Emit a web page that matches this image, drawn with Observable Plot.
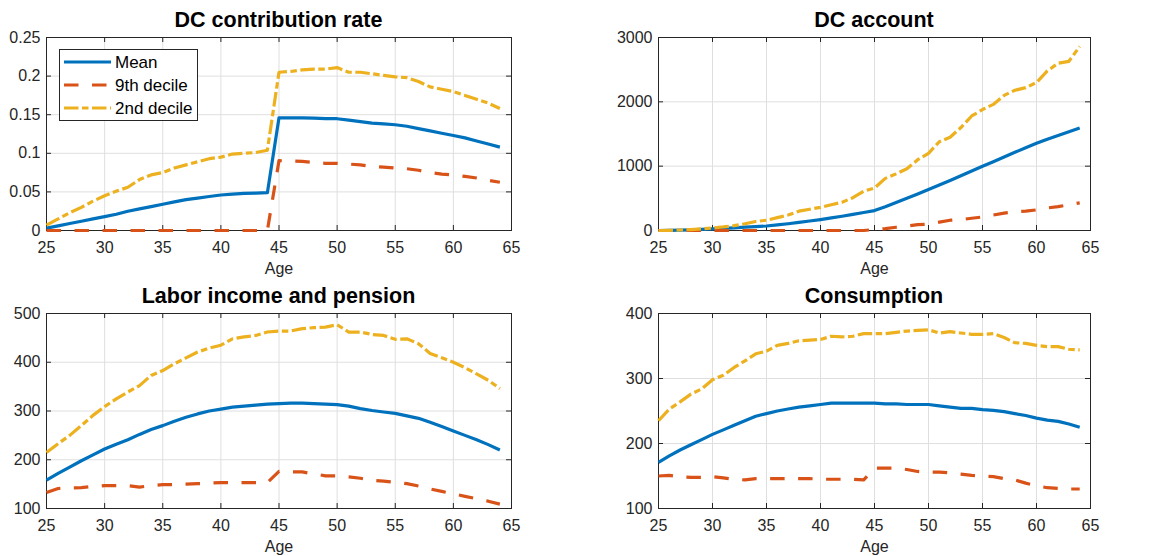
<!DOCTYPE html>
<html><head><meta charset="utf-8">
<script src="https://cdn.jsdelivr.net/npm/d3@7"></script>
<script src="https://cdn.jsdelivr.net/npm/@observablehq/plot@0.6"></script>
<style>
body{margin:0;background:#fff;}
#root{position:relative;width:1149px;height:556px;font-family:"Liberation Sans",Arial,sans-serif;background:#fff;}
.panel{position:absolute;}
.title{position:absolute;font-weight:bold;font-size:21.5px;line-height:24px;color:#000;text-align:center;white-space:nowrap;}
</style></head><body><div id="root"></div>
<script>
const ages = [25,26,27,28,29,30,31,32,33,34,35,36,37,38,39,40,41,42,43,44,45,46,47,48,49,50,51,52,53,54,55,56,57,58,59,60,61,62,63,64];
const seriesNames = ["Mean","9th decile","2nd decile"];
const colors = ["#0072BD","#D95319","#EDB120"];
const dashes = [null,"14.5,13.5","14.5,3.5,6.5,3.5"];
const xTicks = [25,30,35,40,45,50,55,60,65];

// DC contribution rate
const rateMean = [0.003,0.006,0.009,0.012,0.015,0.018,0.021,0.025,0.028,0.031,0.034,0.037,0.040,0.042,0.044,0.046,0.047,0.048,0.0485,0.049,0.146,0.146,0.146,0.1455,0.145,0.1448,0.143,0.141,0.139,0.138,0.137,0.135,0.132,0.129,0.126,0.123,0.120,0.116,0.112,0.108];
const rateD9 = [0,0,0,0,0,0,0,0,0,0,0,0,0,0,0,0,0,0,0,0,0.0905,0.090,0.0895,0.088,0.087,0.087,0.086,0.085,0.083,0.082,0.081,0.080,0.078,0.075,0.073,0.072,0.070,0.068,0.065,0.0625];
const rateD2 = [0.007,0.015,0.023,0.030,0.038,0.045,0.051,0.056,0.066,0.072,0.075,0.081,0.085,0.089,0.093,0.095,0.099,0.100,0.101,0.104,0.205,0.206,0.208,0.209,0.209,0.211,0.205,0.205,0.203,0.201,0.199,0.198,0.193,0.186,0.183,0.180,0.175,0.170,0.165,0.158];
const rateTicks = [0,0.05,0.1,0.15,0.2,0.25];

// DC account
const accMean = [0,2,5,10,17,25,33,42,52,60,70,88,105,125,148,170,195,222,250,280,310,370,435,500,568,636,707,778,850,925,998,1070,1143,1215,1285,1355,1420,1478,1535,1593];
const accD9 = [0,0,0,0,0,0,0,0,0,0,0,0,0,0,0,0,0,0,0,0,15,30,50,70,90,100,130,160,170,190,210,240,270,290,300,320,350,370,400,430];
const accD2 = [0,3,8,15,25,40,55,75,105,140,160,200,240,300,330,360,400,440,510,610,660,810,880,960,1100,1200,1380,1450,1600,1780,1880,1960,2100,2180,2220,2300,2480,2600,2630,2860];
const accTicks = [0,1000,2000,3000];

// Labor income and pension
const incMean = [158,172,185,198,210,222,232,241,252,262,270,279,287,294,300,304,308,310,312,314,315,316,316,315,314,313,310,305,301,298,295,290,285,277,268,259,250,241,231,220];
const incD9 = [133,141,142,143,145,147,147,147,144,147,149,149,150,151,152,153,153,153,153,153,176,175,175,171,167,167,165,162,158,156,154,151,146,140,135,130,125,120,115,109];
const incD2 = [215,233,250,270,291,309,325,339,352,373,383,397,409,421,429,435,448,452,455,462,464,464,469,471,472,477,462,462,457,455,447,448,438,418,409,400,389,376,363,346];
const incTicks = [100,200,300,400,500];

// Consumption
const conMean = [171,181,190,198,206,214,221,228,235,242,246,250,253,256,258,260,262,262,262,262,262,261,261,260,260,260,258,256,254,254,252,251,249,246,243,239,236,234,230,225];
const conD9 = [150,151,149,148,148,149,147,145,144,146,146,146,146,146,146,145,145,145,145,144,162,162,162,160,157,156,156,155,153,151,150,149,146,144,139,135,132,131,130,130];
const conD2 = [235,253,264,276,284,298,305,317,327,338,342,351,354,358,359,360,365,364,365,369,369,369,371,373,374,375,370,372,370,368,368,369,363,355,354,351,349,349,345,344];
const conTicks = [100,200,300,400];

const root = document.getElementById("root");
const fmtDec = d => String(+d.toFixed(2));
const fmtInt = d3.format("d");

function panel({left, top, width, height, mL, mR, mT, mB, yDomain, yTicks, yFormat, series, title}) {
  const pw = width - mL - mR, ph = height - mT - mB;
  const ink = "#262626";
  const marks = [
    Plot.gridX(xTicks, {stroke: "#dfdfdf", strokeOpacity: 1, strokeWidth: 1}),
    Plot.gridY(yTicks, {stroke: "#dfdfdf", strokeOpacity: 1, strokeWidth: 1}),
    Plot.ruleX(xTicks, {x: d => d, insetTop: ph - 5, stroke: ink}),
    Plot.ruleX(xTicks, {x: d => d, insetBottom: ph - 5, stroke: ink}),
    Plot.ruleY(yTicks, {y: d => d, insetRight: pw - 5, stroke: ink}),
    Plot.ruleY(yTicks, {y: d => d, insetLeft: pw - 5, stroke: ink}),
    Plot.frame({stroke: ink, strokeWidth: 1}),
    Plot.axisX(xTicks, {tickSize: 0, tickPadding: 11, label: null, fill: ink}),
    Plot.axisY(yTicks, {tickSize: 0, tickPadding: 6, label: null, tickFormat: yFormat, fill: ink}),
    Plot.text(["Age"], {frameAnchor: "bottom", dy: 32, lineAnchor: "top", fill: ink, fontSize: 16})
  ];
  series.forEach((vals, i) => {
    marks.push(Plot.lineY(vals, {x: ages, stroke: colors[i], strokeWidth: 3.2,
      strokeDasharray: dashes[i], strokeLinejoin: "round", strokeLinecap: "butt"}));
  });
  const svg = Plot.plot({
    width, height, marginLeft: mL, marginRight: mR, marginTop: mT, marginBottom: mB,
    style: {fontFamily: "'Liberation Sans', Arial, sans-serif", fontSize: "16px", color: ink, background: "white", overflow: "visible"},
    x: {domain: [25, 65]},
    y: {domain: yDomain},
    marks
  });
  const wrap = document.createElement("div");
  wrap.className = "panel";
  wrap.style.left = left + "px";
  wrap.style.top = top + "px";
  wrap.appendChild(svg);
  root.appendChild(wrap);
  const t = document.createElement("div");
  t.className = "title";
  t.textContent = title;
  t.style.left = (left + mL) + "px";
  t.style.width = pw + "px";
  t.style.top = (top + mT - 29) + "px";
  root.appendChild(t);
}

panel({left: 0, top: 0, width: 575, height: 280, mL: 46, mR: 64, mT: 37, mB: 50,
  yDomain: [0, 0.25], yTicks: rateTicks, yFormat: fmtDec, series: [rateMean, rateD9, rateD2], title: "DC contribution rate"});
panel({left: 575, top: 0, width: 574, height: 280, mL: 83, mR: 59, mT: 37, mB: 50,
  yDomain: [0, 3000], yTicks: accTicks, yFormat: fmtInt, series: [accMean, accD9, accD2], title: "DC account"});
panel({left: 0, top: 280, width: 575, height: 276, mL: 46, mR: 64, mT: 33, mB: 48,
  yDomain: [100, 500], yTicks: incTicks, yFormat: fmtInt, series: [incMean, incD9, incD2], title: "Labor income and pension"});
panel({left: 575, top: 280, width: 574, height: 276, mL: 83, mR: 59, mT: 33, mB: 48,
  yDomain: [100, 400], yTicks: conTicks, yFormat: fmtInt, series: [conMean, conD9, conD2], title: "Consumption"});

// Legend (upper-left of first panel)
const leg = d3.select(root).append("svg")
  .attr("width", 145).attr("height", 76)
  .style("position", "absolute").style("left", "57px").style("top", "47px");
leg.append("rect").attr("x", 2.5).attr("y", 2.5).attr("width", 138).attr("height", 71)
  .attr("fill", "white").attr("stroke", "#262626").attr("stroke-width", 1);
seriesNames.forEach((name, i) => {
  const y = 15 + i * 23;
  leg.append("line").attr("x1", 7).attr("x2", 54).attr("y1", y).attr("y2", y)
    .attr("stroke", colors[i]).attr("stroke-width", 3.2)
    .attr("stroke-dasharray", dashes[i]);
  leg.append("text").attr("x", 58).attr("y", y).attr("dy", "0.35em")
    .attr("font-family", "'Liberation Sans', Arial, sans-serif").attr("font-size", 17)
    .attr("fill", "#000").text(name);
});
</script>
</body></html>
